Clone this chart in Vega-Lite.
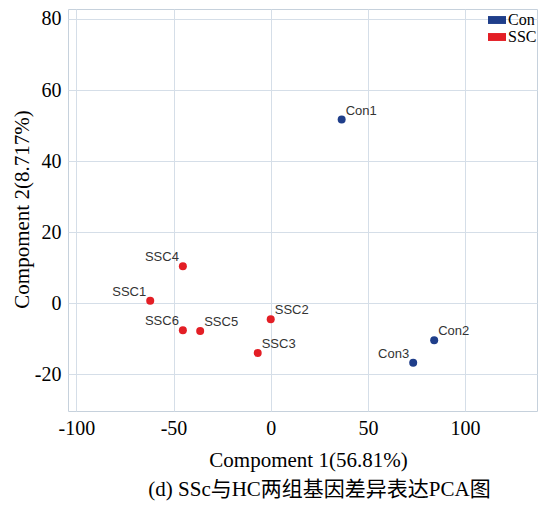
{
  "$schema": "https://vega.github.io/schema/vega-lite/v6.json",
  "autosize": {"type": "none"},
  "padding": {"left": 68, "top": 9, "right": 12, "bottom": 99},
  "width": 469,
  "height": 402,
  "title": {
    "text": "(d) SSc与HC两组基因差异表达PCA图",
    "orient": "bottom",
    "anchor": "middle",
    "font": "Liberation Serif, Noto Sans CJK SC",
    "fontSize": 21,
    "fontWeight": "normal",
    "color": "#000000",
    "dx": 17,
    "offset": 9
  },
  "config": {
    "view": {"stroke": "#c6d1dc", "strokeWidth": 1},
    "axis": {
      "labelFont": "Liberation Serif",
      "labelFontSize": 20,
      "labelColor": "#000000",
      "labelExpr": "'' + datum.value",
      "ticks": false,
      "domain": false,
      "gridColor": "#d5dee8",
      "gridWidth": 1,
      "titleFont": "Liberation Serif",
      "titleFontSize": 21,
      "titleFontWeight": "normal",
      "titleColor": "#000000"
    }
  },
  "data": {
    "values": [
      {"name": "Con1", "group": "Con", "pc1": 36.5, "pc2": 51.7},
      {"name": "Con2", "group": "Con", "pc1": 84.1, "pc2": -10.4},
      {"name": "Con3", "group": "Con", "pc1": 73.3, "pc2": -16.7},
      {"name": "SSC1", "group": "SSC", "pc1": -62.0, "pc2": 0.75},
      {"name": "SSC2", "group": "SSC", "pc1": 0.0, "pc2": -4.5},
      {"name": "SSC3", "group": "SSC", "pc1": -6.7, "pc2": -14.0},
      {"name": "SSC4", "group": "SSC", "pc1": -45.2, "pc2": 10.4},
      {"name": "SSC5", "group": "SSC", "pc1": -36.3, "pc2": -7.8},
      {"name": "SSC6", "group": "SSC", "pc1": -45.2, "pc2": -7.6}
    ]
  },
  "encoding": {
    "x": {
      "field": "pc1",
      "type": "quantitative",
      "scale": {"domain": [-104.3, 137], "nice": false, "zero": false},
      "axis": {
        "values": [-100, -50, 0, 50, 100],
        "labelPadding": 7,
        "title": "Compoment 1(56.81%)",
        "titleX": 240,
        "titleY": 55,
        "titleBaseline": "alphabetic",
        "titleAlign": "center"
      }
    },
    "y": {
      "field": "pc2",
      "type": "quantitative",
      "scale": {"domain": [-30.3, 82.8], "nice": false, "zero": false},
      "axis": {
        "values": [-20, 0, 20, 40, 60, 80],
        "labelPadding": 7,
        "title": "Compoment 2(8.717%)",
        "titleX": -40,
        "titleY": 200,
        "titleBaseline": "alphabetic",
        "titleAlign": "center",
        "titleAngle": -90
      }
    }
  },
  "layer": [
    {
      "mark": {"type": "circle", "size": 64, "opacity": 1},
      "encoding": {
        "color": {
          "field": "group",
          "type": "nominal",
          "scale": {"domain": ["Con", "SSC"], "range": ["#1f3e8a", "#e31e25"]},
          "legend": {
            "title": null,
            "orient": "none",
            "legendX": 420,
            "legendY": 2,
            "padding": 0,
            "symbolType": "M-1,-0.44H1V0.44H-1Z",
            "symbolSize": 324,
            "symbolStrokeWidth": 0,
            "symbolOpacity": 1,
            "labelFont": "Liberation Serif",
            "labelFontSize": 16,
            "labelColor": "#000000",
            "labelOffset": 2,
            "rowPadding": -3
          }
        }
      }
    },
    {
      "transform": [{"filter": {"field": "name", "oneOf": ["Con1", "Con2", "SSC2", "SSC3", "SSC5"]}}],
      "mark": {"type": "text", "align": "left", "baseline": "alphabetic", "dx": 4, "dy": -5, "font": "Liberation Sans", "fontSize": 13, "color": "#333333"},
      "encoding": {"text": {"field": "name"}}
    },
    {
      "transform": [{"filter": {"field": "name", "oneOf": ["Con3", "SSC1", "SSC4", "SSC6"]}}],
      "mark": {"type": "text", "align": "right", "baseline": "alphabetic", "dx": -4, "dy": -5, "font": "Liberation Sans", "fontSize": 13, "color": "#333333"},
      "encoding": {"text": {"field": "name"}}
    }
  ]
}
